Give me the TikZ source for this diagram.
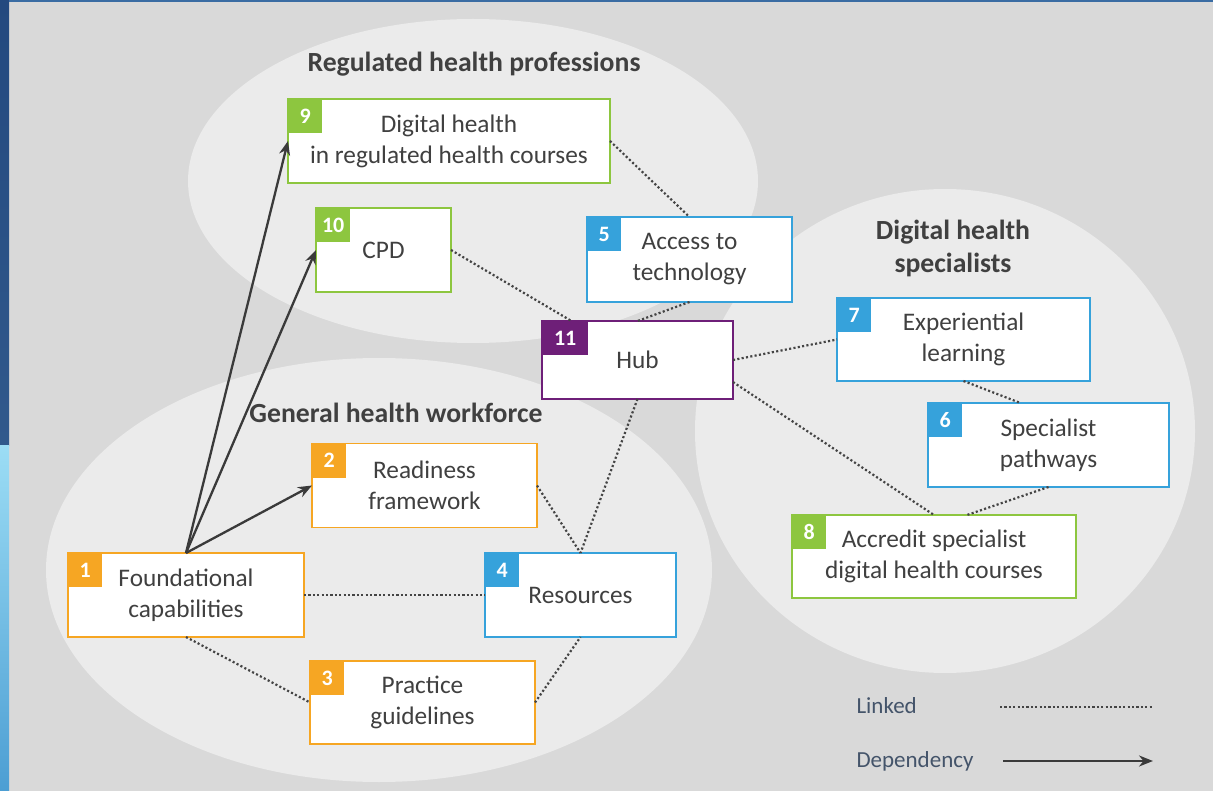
\documentclass[tikz,border=0pt]{standalone}
\usepackage{fontspec}
\setmainfont{Carlito}
\usepackage{tikz}
\usetikzlibrary{arrows.meta}
\definecolor{bggray}{HTML}{D9D9D9}
\definecolor{ellgray}{HTML}{EBEBEB}
\definecolor{txtgray}{HTML}{404040}
\definecolor{linkgray}{HTML}{444444}
\definecolor{arrgray}{HTML}{3A3A3A}
\definecolor{legendblue}{HTML}{44546A}
\definecolor{orangeb}{HTML}{F6A623}
\definecolor{greenb}{HTML}{8DC63F}
\definecolor{blueb}{HTML}{36A2DB}
\definecolor{purpleb}{HTML}{6E1F78}
\definecolor{stripdark}{HTML}{23497F}
\definecolor{stripmid}{HTML}{31598C}
\definecolor{striplight}{HTML}{9CDDF5}
\definecolor{stripsea}{HTML}{4C9ED3}
\definecolor{stripedge}{HTML}{3A6CA3}
\tikzstyle{item} = [rectangle, minimum height=84pt, text centered, align=center, fill=white, line width=1.3pt, outer sep=0pt, inner sep=0pt, text=txtgray, font=\fontsize{25.3}{31}\selectfont]
\tikzstyle{badge} = [rectangle, anchor=north west, minimum width=34pt, minimum height=34pt, inner sep=0pt, text=white, font=\fontsize{22}{22}\selectfont\bfseries]
\tikzstyle{group} = [fill=ellgray]
\tikzstyle{title} = [align=center, text=txtgray, font=\fontsize{27.7}{33}\selectfont\bfseries]
\tikzstyle{link} = [draw=linkgray, line width=2.2pt, dash pattern=on 2.1pt off 2.3pt]
\tikzstyle{arrow} = [draw=arrgray, line width=2.3pt, -{Stealth[length=14pt,width=11pt]}]
\tikzstyle{legend} = [anchor=west, text=legendblue, font=\fontsize{23}{23}\selectfont]

\begin{document}
\begin{tikzpicture}[x=1pt, y=-1pt]
	\useasboundingbox (0,0) rectangle (1213,791);
	\fill[bggray] (0,0) rectangle (1213,791);
	\shade[top color=stripdark, bottom color=stripmid] (0,0) rectangle (9,445);
	\shade[top color=striplight, bottom color=stripsea] (0,445) rectangle (9,791);
	\fill[stripedge] (9,0) rectangle (1213,2);

	% the three groups
	\fill[group] (473,181) ellipse (285 and 162);
	\fill[group] (945,431) ellipse (250 and 242);
	\fill[group] (379,570) ellipse (333 and 212);
	\node (treg) [title] at (474,64) {Regulated health professions};
	\node (tgen) [title] at (396,413) {General health workforce};
	\node (tspec) [title] at (953,248) {Digital health\\specialists};

	% boxes
	\node (found) [item, draw=orangeb, minimum width=236pt] at (186,595) {Foundational\\capabilities};
	\node (ready) [item, draw=orangeb, minimum width=225pt] at (424.5,485.5) {Readiness\\framework};
	\node (guide) [item, draw=orangeb, minimum width=225pt, minimum height=83pt] at (422.5,702.5) {Practice\\guidelines};
	\node (res) [item, draw=blueb, minimum width=191pt] at (580.5,595) {Resources};
	\node (access) [item, draw=blueb, minimum width=205pt, minimum height=85pt] at (689.5,259.5) {Access to\\technology};
	\node (spec) [item, draw=blueb, minimum width=241pt] at (1048.5,445) {Specialist\\pathways};
	\node (exper) [item, draw=blueb, minimum width=253pt, minimum height=83pt] at (963.5,339.5) {Experiential\\learning};
	\node (accr) [item, draw=greenb, minimum width=284pt, minimum height=83pt] at (934,556.5) {Accredit specialist\\digital health courses};
	\node (reg) [item, draw=greenb, minimum width=322pt] at (449,141) {Digital health\\in regulated health courses};
	\node (cpd) [item, draw=greenb, minimum width=135pt] at (383.5,250) {CPD};
	\node (hub) [item, draw=purpleb, minimum width=191pt, minimum height=78pt] at (637.5,360) {Hub};

	\node (n1) [badge, fill=orangeb] at (found.north west) {1};
	\node (n2) [badge, fill=orangeb] at (ready.north west) {2};
	\node (n3) [badge, fill=orangeb] at (guide.north west) {3};
	\node (n4) [badge, fill=blueb] at (res.north west) {4};
	\node (n5) [badge, fill=blueb] at (access.north west) {5};
	\node (n6) [badge, fill=blueb] at (spec.north west) {6};
	\node (n7) [badge, fill=blueb] at (exper.north west) {7};
	\node (n8) [badge, fill=greenb] at (accr.north west) {8};
	\node (n9) [badge, fill=greenb] at (reg.north west) {9};
	\node (n10) [badge, fill=greenb] at (cpd.north west) {10};
	\node (n11) [badge, fill=purpleb, minimum width=46pt] at (hub.north west) {11};

	% dependencies
	\draw [arrow] (found.north) -- (reg.west);
	\draw [arrow] (found.north) -- (cpd.west);
	\draw [arrow] (found.north) -- (ready.west);

	% links
	\draw [link] (reg.east) -- (access.north);
	\draw [link] (cpd.east) -- (hub);
	\draw [link] (access.south) -- (hub.north);
	\draw [link] (hub.east) -- (exper.west);
	\draw [link] (hub.-13) -- (accr.north);
	\draw [link] (exper.south) -- ([xshift=-28pt]spec.north);
	\draw [link] (spec.south) -- ([xshift=33pt]accr.north);
	\draw [link] (found.east) -- (res.west);
	\draw [link] (found.south) -- (guide.west);
	\draw [link] (ready.east) -- (res.north);
	\draw [link] (hub.south) -- (res.north);
	\draw [link] (guide.east) -- (res.south);

	% legend
	\node (llinked) [legend] at (853,706) {Linked};
	\node (ldep) [legend] at (853,761) {Dependency};
	\coordinate (lk1) at (1000,707);
	\coordinate (lk2) at (1152,707);
	\coordinate (dp1) at (1003,761);
	\coordinate (dp2) at (1153,761);
	\draw [link] (lk1) -- (lk2);
	\draw [arrow] (dp1) -- (dp2);
\end{tikzpicture}
\end{document}
